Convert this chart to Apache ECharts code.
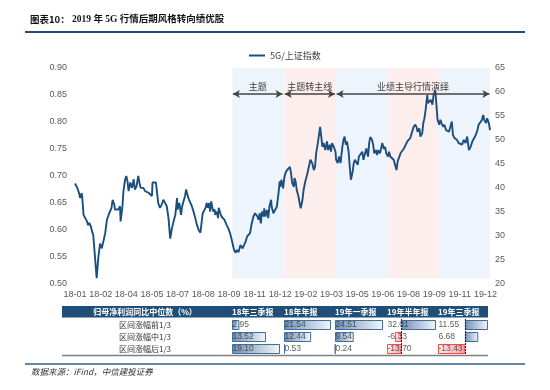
<!DOCTYPE html>
<html><head><meta charset="utf-8">
<script src="https://cdn.jsdelivr.net/npm/echarts@6/dist/echarts.min.js"></script>
<style>html,body{margin:0;padding:0;background:#fff}#c{width:550px;height:390px}</style>
</head><body><div id="c"></div>
<script>
// ---- data ----
const seriesName = '5G/上证指数';
// day offset from 2018-01-02
const days = [0,4,7,9,10,12,13,15,18,21,23,25,28,30,32,38,41,44,47,50,53,56,59,62,64,66,69,70,73,76,79,80,83,85,88,90,92,94,97,100,103,105,108,111,113,115,117,120,123,126,129,132,135,136,139,142,143,146,149,152,155,158,161,164,167,170,173,176,179,180,183,186,188,190,193,195,197,200,202,205,208,211,214,217,220,222,224,227,229,231,233,235,237,239,241,243,245,246,249,251,252,255,257,259,262,264,266,269,272,274,277,279,282,284,287,290,294,299,302,304,307,310,313,316,318,320,322,324,326,328,331,332,334,337,339,341,344,345,348,351,354,357,359,360,362,365,367,369,372,375,377,379,381,384,385,387,389,392,394,396,399,401,404,407,410,413,415,416,419,421,423,426,428,430,432,434,436,439,442,444,447,449,451,454,457,458,461,463,466,467,469,471,473,475,477,480,482,484,487,489,491,494,496,498,501,504,506,509,511,514,516,518,521,523,525,528,530,532,535,537,539,542,544,546,549,551,553,556,559,562,564,566,569,571,574,577,580,583,586,588,591,594,597,599,601,604,606,609,611,613,615,618,619,621,624,627,629,632,634,636,639,641,643,646,648,651,653,656,659,661,663,666,667,670,673,676,679,682,685,688,691,694,697,700,703,706,708,711,714,716,718,721,723,726,728];
const ratio = [0.686,0.678,0.669,0.659,0.664,0.668,0.656,0.628,0.625,0.616,0.609,0.613,0.606,0.597,0.591,0.511,0.550,0.575,0.566,0.566,0.594,0.619,0.628,0.631,0.641,0.656,0.647,0.638,0.641,0.638,0.644,0.616,0.641,0.672,0.694,0.700,0.691,0.672,0.688,0.678,0.694,0.675,0.681,0.700,0.688,0.678,0.681,0.678,0.672,0.669,0.669,0.666,0.663,0.688,0.691,0.688,0.678,0.650,0.641,0.647,0.656,0.653,0.644,0.622,0.584,0.603,0.616,0.628,0.659,0.638,0.650,0.628,0.644,0.647,0.663,0.675,0.666,0.656,0.653,0.644,0.634,0.622,0.609,0.600,0.595,0.613,0.631,0.634,0.641,0.650,0.641,0.650,0.634,0.653,0.641,0.634,0.638,0.628,0.634,0.622,0.641,0.631,0.625,0.622,0.619,0.616,0.609,0.603,0.594,0.586,0.584,0.563,0.558,0.563,0.559,0.572,0.566,0.578,0.588,0.591,0.594,0.612,0.625,0.631,0.634,0.625,0.619,0.631,0.612,0.634,0.625,0.640,0.625,0.637,0.622,0.643,0.656,0.643,0.631,0.631,0.643,0.668,0.690,0.680,0.693,0.677,0.696,0.705,0.711,0.714,0.717,0.705,0.687,0.680,0.696,0.690,0.674,0.662,0.650,0.640,0.656,0.674,0.690,0.702,0.705,0.730,0.733,0.724,0.711,0.717,0.742,0.761,0.776,0.791,0.773,0.754,0.761,0.748,0.764,0.748,0.758,0.745,0.761,0.754,0.745,0.730,0.724,0.736,0.724,0.736,0.754,0.767,0.773,0.758,0.764,0.745,0.717,0.693,0.708,0.724,0.730,0.733,0.721,0.736,0.733,0.745,0.730,0.733,0.751,0.736,0.761,0.772,0.767,0.758,0.742,0.748,0.739,0.748,0.742,0.751,0.761,0.750,0.754,0.742,0.736,0.745,0.736,0.733,0.730,0.727,0.711,0.727,0.736,0.742,0.739,0.751,0.754,0.764,0.761,0.770,0.773,0.791,0.795,0.791,0.782,0.788,0.773,0.779,0.798,0.807,0.822,0.850,0.835,0.832,0.841,0.832,0.850,0.859,0.832,0.804,0.795,0.804,0.798,0.791,0.795,0.785,0.788,0.782,0.782,0.801,0.776,0.770,0.773,0.767,0.761,0.764,0.758,0.767,0.761,0.773,0.748,0.754,0.764,0.770,0.776,0.785,0.795,0.798,0.804,0.813,0.804,0.798,0.807,0.798,0.785];
const xTickLabels = ['18-01','18-02','18-04','18-05','18-07','18-08','18-09','18-11','18-12','19-02','19-03','19-05','19-06','19-08','19-09','19-11','19-12'];
const phaseLabels = ['主题','主题转主线','业绩主导行情演绎'];
const phaseDays = [[277,364],[368,456],[459,727]];
const quarterDays = [[276,367],[367,458],[458,549],[549,639],[639,728]];

const tableTitle = '归母净利润同比中位数（%）';
const rowLabels = ['区间涨幅前1/3','区间涨幅中1/3','区间涨幅后1/3'];
const reportPeriods = ['18年三季报','18年年报','19年一季报','19年半年报','19年三季报'];
const r18Q3 = [2.95, 13.52, 19.10];
const r18FY = [21.54, 12.44, 0.53];
const r19Q1 = [24.51, 9.54, 0.24];
const r19H1 = [32.01, -6.33, -13.70];
const r19Q3 = [11.55, 6.68, -13.43];
const columns = [r18Q3, r18FY, r19Q1, r19H1, r19Q3];

// ---- layout ----
const cellLeft = [231, 283, 334, 386, 437];
const cellWidth = [49, 48, 49, 50, 51];
const navy = '#1F4E79';
const FONT = "'Liberation Sans','Noto Sans CJK SC',sans-serif";
const CJK = "'Noto Sans CJK SC','Liberation Sans',sans-serif";

const grids = [{left: 75, top: 68, width: 415, height: 216}];
const xAxes = [{
  type: 'value', gridIndex: 0, min: 0, max: 728, interval: 45,
  axisLine: {show: false}, axisTick: {show: false}, splitLine: {show: false},
  axisLabel: {
    showMaxLabel: false, margin: 6, fontSize: 9, color: '#595959', fontFamily: FONT,
    formatter: v => (v % 45 === 0 ? (xTickLabels[Math.round(v / 45)] || '') : '')
  }
}];
const yAxes = [
  {type: 'value', gridIndex: 0, position: 'left', min: 0.5, max: 0.9, interval: 0.05,
   axisLine: {show: false}, axisTick: {show: false}, splitLine: {show: false},
   axisLabel: {margin: 8, fontSize: 9, color: '#595959', fontFamily: FONT, formatter: v => v.toFixed(2)}},
  {type: 'value', gridIndex: 0, position: 'right', min: 20, max: 65, interval: 5,
   axisLine: {show: false}, axisTick: {show: false}, splitLine: {show: false},
   axisLabel: {margin: 5, fontSize: 9, color: '#595959', fontFamily: FONT}}
];

const series = [
  { // quarter bands
    type: 'line', name: 'bands', xAxisIndex: 0, yAxisIndex: 1, data: [], z: 1, silent: true,
    markArea: {
      silent: true,
      data: quarterDays.map((q, i) => [
        {xAxis: q[0], yAxis: 21.2, itemStyle: {color: i % 2 === 0 ? '#EDF4FC' : '#FDEEEE'}},
        {xAxis: q[1], yAxis: 65}
      ])
    }
  },
  { // phase arrows
    type: 'line', name: 'phases', xAxisIndex: 0, yAxisIndex: 1, data: [], z: 2, silent: true,
    markLine: {
      silent: true, symbol: ['arrow', 'arrow'], symbolSize: [6, 7],
      lineStyle: {color: '#444', width: 1.5, type: 'solid'},
      label: {show: true, position: 'middle', distance: 3, fontSize: 9, color: '#404040', fontFamily: CJK,
              formatter: p => p.name},
      emphasis: {disabled: true},
      data: phaseDays.map((p, i) => [
        {coord: [p[0], 59.6], name: phaseLabels[i]},
        {coord: [p[1], 59.6]}
      ])
    }
  },
  {
    type: 'line', name: seriesName, xAxisIndex: 0, yAxisIndex: 0, z: 3,
    showSymbol: false, symbol: 'none',
    lineStyle: {color: '#1B4F7E', width: 1.9}, itemStyle: {color: '#1B4F7E'},
    data: days.map((d, i) => [d, ratio[i]])
  }
];

const posStyle = {
  color: {type: 'linear', x: 0, y: 0, x2: 1, y2: 0,
          colorStops: [{offset: 0, color: '#7190B5'}, {offset: 1, color: '#F4F7FB'}]},
  borderColor: '#3F6D9E', borderWidth: 1
};
const negStyle = {
  color: {type: 'linear', x: 0, y: 0, x2: 1, y2: 0,
          colorStops: [{offset: 0, color: '#FFF2F2'}, {offset: 1, color: '#FF9E9E'}]},
  borderColor: '#FF4848', borderWidth: 1
};

columns.forEach((vals, k) => {
  const gi = k + 1;
  const xmin = Math.min(0, ...vals);
  const xmax = Math.max(...vals);
  grids.push({left: cellLeft[k] + 1, top: 319, width: cellWidth[k] - 1, height: 36});
  xAxes.push({type: 'value', gridIndex: gi, min: xmin, max: xmax, show: false});
  yAxes.push({
    type: 'category', gridIndex: gi, data: rowLabels, inverse: true,
    axisLine: {show: false}, axisTick: {show: false}, splitLine: {show: false},
    axisLabel: k === 0 ? {show: true, margin: 87, align: 'center', fontSize: 8, color: '#333', fontFamily: CJK}
                       : {show: false}
  });
  const hasNeg = xmin < 0;
  series.push({
    type: 'bar', xAxisIndex: gi, yAxisIndex: k + 2, barWidth: 10, z: 2, silent: true,
    data: vals.map(v => ({value: v, itemStyle: v >= 0 ? posStyle : negStyle})),
    markLine: hasNeg ? {
      silent: true, symbol: 'none', label: {show: false},
      lineStyle: {color: '#222', width: 1, type: [2, 1]},
      data: [{xAxis: 0}]
    } : undefined
  });
  series.push({
    type: 'scatter', xAxisIndex: gi, yAxisIndex: k + 2, z: 4, silent: true,
    symbolSize: 1, itemStyle: {color: 'rgba(0,0,0,0)'},
    data: vals.map((v, i) => [xmin, i]),
    label: {show: true, position: 'right', distance: 0, fontSize: 8.5, color: '#333', fontFamily: FONT,
            formatter: p => vals[p.dataIndex].toFixed(2)}
  });
});

const graphics = [
  {type: 'text', left: 30, top: 15, style: {
    text: '{a|图表10：}{b| 2019 年 5G 行情后期风格转向绩优股}',
    rich: {
      a: {fontFamily: CJK, fontWeight: 'bold', fontSize: 9.5, fill: '#111'},
      b: {fontFamily: "'Liberation Serif','Noto Sans CJK SC',serif", fontWeight: 'bold', fontSize: 9.5, fill: '#111'}
    }}},
  {type: 'line', shape: {x1: 25, y1: 32, x2: 525, y2: 32}, style: {stroke: navy, lineWidth: 2}},
  {type: 'rect', shape: {x: 62, y: 306, width: 426, height: 11.5}, style: {fill: navy}},
  {type: 'text', x: 145, y: 311.8, style: {text: tableTitle, fill: '#fff', fontSize: 8, fontWeight: 'bold',
    fontFamily: CJK, align: 'center', verticalAlign: 'middle'}},
  ...reportPeriods.map((t, k) => ({type: 'text', x: cellLeft[k] + 1, y: 311.8, style: {
    text: t, fill: '#fff', fontSize: 8, fontWeight: 'bold', fontFamily: CJK, align: 'left', verticalAlign: 'middle'}})),
  {type: 'line', shape: {x1: 62, y1: 355.5, x2: 488, y2: 355.5}, style: {stroke: '#7F7F7F', lineWidth: 1.5}},
  {type: 'line', shape: {x1: 25, y1: 364, x2: 525, y2: 364}, style: {stroke: '#2E6090', lineWidth: 1.5}},
  {type: 'text', left: 31, top: 368, style: {text: '数据来源：iFind，中信建投证券', fill: '#333', fontSize: 8.5,
    fontStyle: 'italic', fontFamily: CJK}}
];

const chart = echarts.init(document.getElementById('c'), null, {renderer: 'canvas'});
chart.setOption({
  animation: false,
  backgroundColor: '#fff',
  textStyle: {fontFamily: FONT},
  legend: {
    data: [seriesName], left: 244, top: 46, icon: 'rect', itemWidth: 16, itemHeight: 2,
    itemGap: 4, textStyle: {fontSize: 9, color: '#404040', fontFamily: CJK}, selectedMode: false
  },
  grid: grids,
  xAxis: xAxes,
  yAxis: yAxes,
  series: series,
  graphic: graphics
});
</script>
</body></html>
